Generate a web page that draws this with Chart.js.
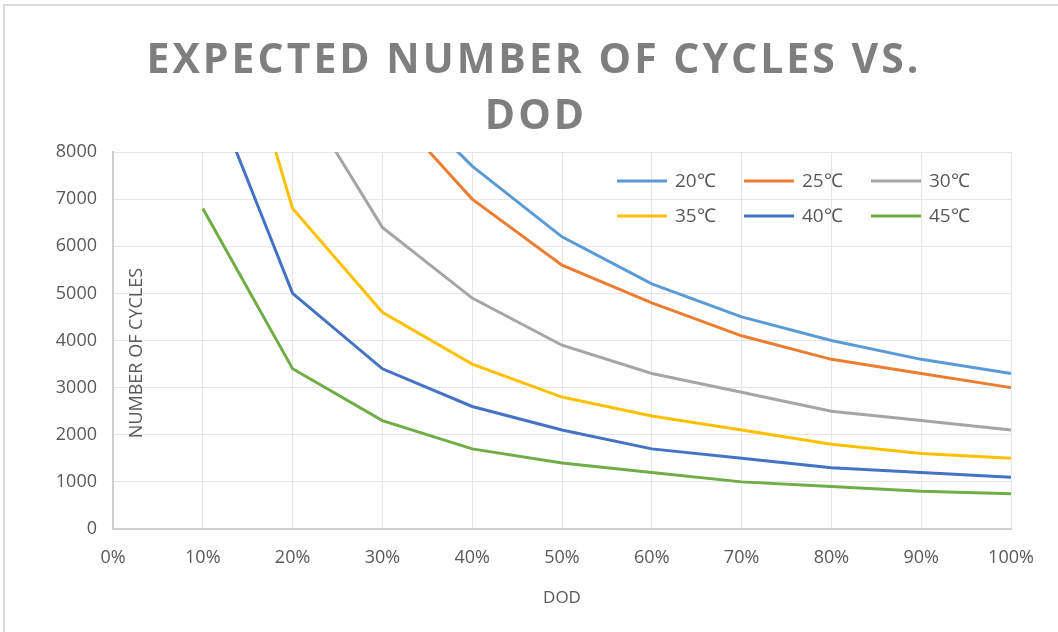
<!DOCTYPE html>
<html>
<head>
<meta charset="utf-8">
<script src="https://cdn.jsdelivr.net/npm/chart.js@4.4.1/dist/chart.umd.min.js"></script>
<style>
  html, body { margin: 0; padding: 0; background: #fff; }
  #wrap { width: 1058px; height: 632px; }
</style>
</head>
<body>
<div id="wrap"><canvas id="grafico" width="1058" height="632"></canvas></div>
<script>
// datos
const dodLabels = ['0%', '10%', '20%', '30%', '40%', '50%', '60%', '70%', '80%', '90%', '100%'];
const seriesNames = ['20℃', '25℃', '30℃', '35℃', '40℃', '45℃'];
const cycles20 = [null, null, null, 9600, 7700, 6200, 5200, 4500, 4000, 3600, 3300];
const cycles25 = [null, null, null, 9100, 7000, 5600, 4800, 4100, 3600, 3300, 3000];
const cycles30 = [null, null, 9500, 6400, 4900, 3900, 3300, 2900, 2500, 2300, 2100];
const cycles35 = [null, 13200, 6800, 4600, 3500, 2800, 2400, 2100, 1800, 1600, 1500];
const cycles40 = [null, 9800, 5000, 3400, 2600, 2100, 1700, 1500, 1300, 1200, 1100];
const cycles45 = [null, 6800, 3400, 2300, 1700, 1400, 1200, 1000, 900, 800, 750];
const colores = ['#5B9BD5', '#ED7D31', '#A5A5A5', '#FFC000', '#4472C4', '#70AD47'];

const titulo = ['EXPECTED NUMBER OF CYCLES VS.', 'DOD'];
const tituloY = 'NUMBER OF CYCLES';
const tituloX = 'DOD';

const gris = '#595959';

const allSeries = [cycles20, cycles25, cycles30, cycles35, cycles40, cycles45];
const datasets = allSeries.map((serie, i) => ({
  label: seriesNames[i],
  data: serie,
  borderColor: colores[i],
  backgroundColor: colores[i],
  borderWidth: 3,
  pointRadius: 0,
  tension: 0,
  spanGaps: false
}));

// marco, titulo, leyenda y titulo del eje Y dibujados a mano
const extras = {
  id: 'extras',
  beforeDraw(chart) {
    const ctx = chart.ctx;
    ctx.save();
    ctx.fillStyle = '#fff';
    ctx.fillRect(0, 0, chart.width, chart.height);
    ctx.strokeStyle = '#d9d9d9';
    ctx.lineWidth = 2;
    ctx.strokeRect(4, 5, 1200, 800);
    ctx.restore();
  },
  afterDatasetsDraw(chart) {
    const ctx = chart.ctx;
    ctx.save();

    // titulo
    ctx.fillStyle = '#7f7f7f';
    ctx.font = 'bold 41px "Open Sans"';
    ctx.textAlign = 'center';
    ctx.textBaseline = 'alphabetic';
    if ('letterSpacing' in ctx) ctx.letterSpacing = '3px';
    ctx.fillText(titulo[0], 534, 73);
    ctx.fillText(titulo[1], 536, 129);
    if ('letterSpacing' in ctx) ctx.letterSpacing = '0px';

    // titulo eje Y, dentro del area
    ctx.save();
    ctx.translate(137, 353);
    ctx.rotate(-Math.PI / 2);
    ctx.fillStyle = gris;
    ctx.font = '18px "Open Sans"';
    ctx.textAlign = 'center';
    ctx.textBaseline = 'middle';
    ctx.fillText(tituloY, 0, 0);
    ctx.restore();

    // leyenda 3 x 2
    ctx.font = '19px "Open Sans"';
    ctx.textAlign = 'left';
    ctx.textBaseline = 'middle';
    chart.data.datasets.forEach((ds, i) => {
      const col = i % 3;
      const row = Math.floor(i / 3);
      const x = 617 + col * 127;
      const y = 181 + row * 35;
      ctx.strokeStyle = ds.borderColor;
      ctx.lineWidth = 3;
      ctx.beginPath();
      ctx.moveTo(x, y);
      ctx.lineTo(x + 50, y);
      ctx.stroke();
      ctx.fillStyle = gris;
      ctx.fillText(ds.label, x + 58, y + 1);
    });
    ctx.restore();
  }
};

new Chart(document.getElementById('grafico'), {
  type: 'line',
  data: { labels: dodLabels, datasets: datasets },
  options: {
    responsive: false,
    animation: false,
    layout: { padding: { top: 152, left: 0, right: 47, bottom: 0 } },
    plugins: {
      legend: { display: false },
      title: { display: false },
      tooltip: { enabled: false }
    },
    scales: {
      x: {
        offset: false,
        grid: { color: '#e6e6e6', lineWidth: 1, drawTicks: false },
        border: { color: '#cfcfcf', width: 2 },
        ticks: { color: gris, font: { family: 'Open Sans', size: 18 }, padding: 18, maxRotation: 0 },
        title: { display: true, text: tituloX, color: gris, font: { family: 'Open Sans', size: 17 }, padding: { top: 0, bottom: 24 } },
        afterFit(scale) { scale.height = 103; }
      },
      y: {
        min: 0,
        max: 8000,
        grid: { color: '#e6e6e6', lineWidth: 1, drawTicks: false },
        border: { color: '#cfcfcf', width: 2 },
        ticks: {
          stepSize: 1000, color: gris, font: { family: 'Open Sans', size: 18 }, padding: 16,
          callback: (v) => String(v)
        },
        afterFit(scale) { scale.width = 113; }
      }
    }
  },
  plugins: [extras]
});
</script>
</body>
</html>
